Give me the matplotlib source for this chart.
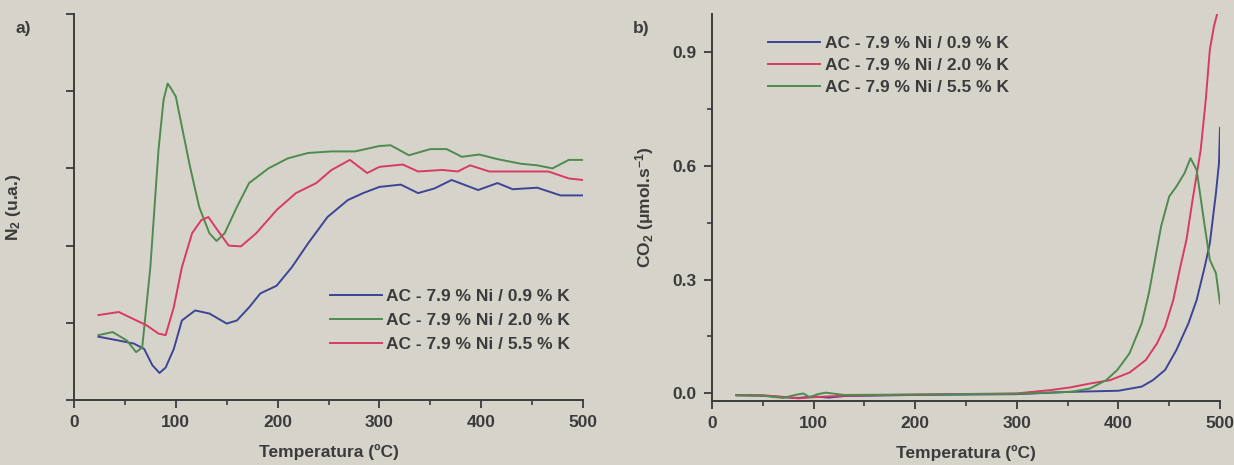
import matplotlib.pyplot as plt
from matplotlib.ticker import MultipleLocator

# (a) N2 signal, arbitrary units
n2_t_09 = [24, 44, 59, 69, 77, 84, 90, 98, 106, 119, 133, 150, 160, 172, 183, 199, 214,
           230, 249, 269, 284, 300, 321, 338, 354, 371, 397, 416, 431, 455, 478, 500]
n2_09 = [0.82, 0.77, 0.73, 0.66, 0.45, 0.35, 0.42, 0.66, 1.03, 1.16, 1.12, 0.99, 1.03, 1.20,
         1.38, 1.48, 1.72, 2.03, 2.37, 2.59, 2.68, 2.76, 2.79, 2.68, 2.74, 2.85, 2.72, 2.81,
         2.73, 2.75, 2.65, 2.65]

n2_t_20 = [24, 38, 52, 61, 67, 75, 83, 88, 92, 96, 100, 106, 114, 123, 133, 140, 148, 160,
           172, 191, 210, 230, 253, 276, 300, 311, 329, 350, 366, 381, 398, 416, 439, 455,
           470, 486, 500]
n2_20 = [0.84, 0.88, 0.77, 0.62, 0.68, 1.72, 3.24, 3.89, 4.10, 4.02, 3.93, 3.54, 3.02, 2.50,
         2.16, 2.06, 2.16, 2.50, 2.81, 3.00, 3.13, 3.20, 3.22, 3.22, 3.29, 3.30, 3.17, 3.25,
         3.25, 3.15, 3.18, 3.12, 3.06, 3.04, 3.00, 3.11, 3.11]

n2_t_55 = [24, 44, 55, 71, 83, 90, 98, 106, 116, 125, 132, 141, 152, 164, 179, 199, 218,
           238, 253, 271, 288, 300, 323, 338, 362, 377, 389, 408, 431, 466, 486, 500]
n2_55 = [1.10, 1.14, 1.07, 0.97, 0.86, 0.84, 1.20, 1.72, 2.16, 2.33, 2.37, 2.20, 2.00, 1.99,
         2.16, 2.46, 2.68, 2.81, 2.98, 3.11, 2.94, 3.02, 3.05, 2.96, 2.98, 2.96, 3.04, 2.96,
         2.96, 2.96, 2.87, 2.85]

# (b) CO2 rate, umol/s
co2_t_09 = [24, 50, 70, 85, 100, 115, 130, 200, 300, 350, 400, 423, 434, 446, 457, 469, 477,
            485, 490, 496, 499, 500]
co2_09 = [-0.005, -0.006, -0.010, -0.012, -0.008, -0.011, -0.007, -0.004, -0.002, 0.004,
          0.007, 0.018, 0.035, 0.062, 0.114, 0.185, 0.246, 0.334, 0.396, 0.528, 0.607, 0.70]

co2_t_20 = [24, 50, 70, 85, 100, 115, 130, 200, 300, 334, 353, 372, 392, 411, 427, 438, 446,
            454, 461, 467, 473, 481, 486, 490, 494, 497, 498]
co2_20 = [-0.004, -0.005, -0.009, -0.013, -0.010, -0.008, -0.006, -0.003, 0.000, 0.009,
          0.016, 0.026, 0.035, 0.055, 0.088, 0.132, 0.176, 0.246, 0.334, 0.405, 0.510, 0.642,
          0.774, 0.906, 0.967, 0.998, 1.01]

co2_t_55 = [24, 50, 70, 82, 90, 96, 104, 112, 130, 200, 300, 353, 372, 388, 399, 411, 423,
            430, 436, 442, 450, 457, 465, 471, 477, 485, 490, 496, 500]
co2_55 = [-0.005, -0.006, -0.012, -0.004, 0.000, -0.010, -0.002, 0.002, -0.004, -0.003,
          -0.001, 0.004, 0.013, 0.035, 0.062, 0.106, 0.185, 0.264, 0.352, 0.440, 0.519, 0.545,
          0.580, 0.620, 0.589, 0.440, 0.352, 0.317, 0.237]

legend_a = ["AC - 7.9 % Ni / 0.9 % K", "AC - 7.9 % Ni / 2.0 % K", "AC - 7.9 % Ni / 5.5 % K"]
legend_b = ["AC - 7.9 % Ni / 0.9 % K", "AC - 7.9 % Ni / 2.0 % K", "AC - 7.9 % Ni / 5.5 % K"]

BG = "#d6d4ca"
INK = "#3b3b3b"
BLUE = "#3d4496"
GREEN = "#4f8a4f"
RED = "#d83a62"

plt.rcParams["font.family"] = ["Liberation Sans", "DejaVu Sans"]
plt.rcParams["font.weight"] = "bold"
plt.rcParams["axes.labelweight"] = "bold"
plt.rcParams["font.size"] = 12.5
plt.rcParams["mathtext.fontset"] = "custom"
plt.rcParams["mathtext.rm"] = "Liberation Sans:bold"
plt.rcParams["mathtext.it"] = "Liberation Sans:bold"
plt.rcParams["mathtext.default"] = "rm"

fig = plt.figure(figsize=(12.34, 4.65), dpi=100, facecolor=BG)
ax1 = fig.add_axes([74 / 1234, 65 / 465, 509 / 1234, 386 / 465], facecolor=BG)
ax2 = fig.add_axes([712 / 1234, 64 / 465, 508 / 1234, 387 / 465], facecolor=BG)

ax1.plot(n2_t_09, n2_09, color=BLUE, lw=1.4, label=legend_a[0])
ax1.plot(n2_t_20, n2_20, color=GREEN, lw=1.4, label=legend_a[1])
ax1.plot(n2_t_55, n2_55, color=RED, lw=1.4, label=legend_a[2])
ax1.set_xlim(0, 500)
ax1.set_ylim(0, 5)
ax1.yaxis.set_major_locator(MultipleLocator(1))
ax1.set_yticklabels([])
ax1.set_ylabel("N$_2$ (u.a.)", color=INK, labelpad=26)

ax2.plot(co2_t_09, co2_09, color=BLUE, lw=1.4, label=legend_b[0])
ax2.plot(co2_t_20, co2_20, color=RED, lw=1.4, label=legend_b[1])
ax2.plot(co2_t_55, co2_55, color=GREEN, lw=1.4, label=legend_b[2])
ax2.set_xlim(0, 500)
ax2.set_ylim(-0.02, 1.0)
ax2.yaxis.set_major_locator(MultipleLocator(0.3))
ax2.yaxis.set_minor_locator(MultipleLocator(0.15))
ax2.yaxis.set_major_formatter(lambda v, p: f"{v:.1f}")
ax2.set_ylabel("CO$_2$ ($\\mu$mol.s$^{-1}$)", color=INK, labelpad=12)

for ax in (ax1, ax2):
    ax.xaxis.set_major_locator(MultipleLocator(100))
    ax.xaxis.set_minor_locator(MultipleLocator(50))
    ax.set_xlabel("Temperatura (ºC)", color=INK, labelpad=10)
    for side in ("top", "right"):
        ax.spines[side].set_visible(False)
    for side in ("left", "bottom"):
        ax.spines[side].set_color(INK)
        ax.spines[side].set_linewidth(1.4)
    ax.tick_params(which="major", direction="out", length=6, width=1.3, colors=INK,
                   labelsize=12.5, pad=5)
    ax.tick_params(which="minor", direction="out", length=3.5, width=1.2, colors=INK)

leg1 = ax1.legend(loc="lower right", bbox_to_anchor=(0.995, 0.097), frameon=False,
                  handlelength=3.0, handletextpad=0.25, labelspacing=0.5, borderaxespad=0.2)
leg2 = ax2.legend(loc="upper left", bbox_to_anchor=(0.09, 0.97), frameon=False,
                  handlelength=3.0, handletextpad=0.25, labelspacing=0.4, borderaxespad=0.2)
for leg in (leg1, leg2):
    for t in leg.get_texts():
        t.set_color(INK)

fig.text(16 / 1234, 1 - 28 / 465, "a)", color=INK, fontsize=12.5, va="center")
fig.text(633 / 1234, 1 - 28 / 465, "b)", color=INK, fontsize=12.5, va="center")

fig.savefig("out.png", dpi=100, facecolor=BG)
